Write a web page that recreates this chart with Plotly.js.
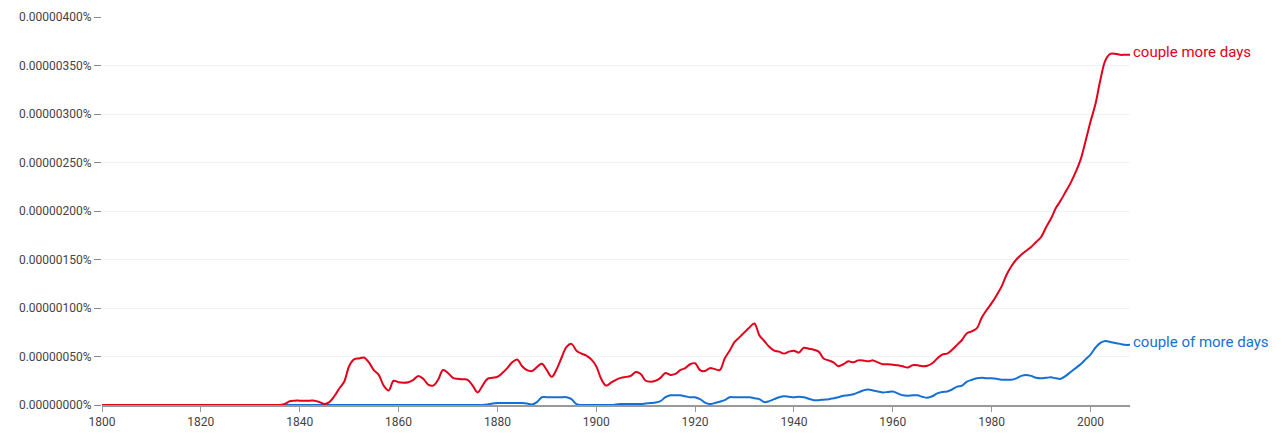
<!DOCTYPE html>
<html>
<head>
<meta charset="utf-8">
<script src="https://cdn.plot.ly/plotly-3.0.1.min.js"></script>
<style>html,body{margin:0;padding:0;background:#fff;}#chart{width:1284px;height:437px;}</style>
</head>
<body>
<div id="chart"></div>
<script>
// values in units of 0.00000001 %
const startYear = 1800;
const seriesNames = ["couple more days", "couple of more days"];
const redValues = [
  0,0,0,0,0,0,0,0,0,0, 0,0,0,0,0,0,0,0,0,0, 0,0,0,0,0,0,0,0,0,0, 0,0,0,0,0,0,0,          // 1800-1836
  1,4,4.5,4.5,4.5,4.5,4.5,3,1,3,9,17,24,                                                  // 1837-1849
  40,47,48,49,44,36,31,20,15,25,                                                          // 1850-1859
  23.5,23,23.5,26,30,27,21,20,26,36,                                                      // 1860-1869
  33,28,27,26.5,26,20,13,20,27,28,                                                        // 1870-1879
  29,33,38,44,47,40,36,35,39,42.5,                                                        // 1880-1889
  36,29,37,49,60,63,56,53,51,47,                                                          // 1890-1899
  40,27,20,23,26,28,29,30,34,32,                                                          // 1900-1909
  25,24,25,28,33,31,32,36,38,42,                                                          // 1910-1919
  43,36,35,38,37,36,48,56,65,70,                                                          // 1920-1929
  75,80,84,72,66,60,56,55,53,55,                                                          // 1930-1939
  56,54,59,58,57,55,48,46,44,40,                                                          // 1940-1949
  42,45,44,46,46,45,46,44,42,42,                                                          // 1950-1959
  41.5,41,40,38.6,41,41,40,40.5,43,48,                                                    // 1960-1969
  52,53,57,62,67,74,76,79,90,98,                                                          // 1970-1979
  105,113,122,134,143,150,155,159,163,168,                                                // 1980-1989
  173,183,192,203,211,220,229,240,253,272,                                                // 1990-1999
  292,310,335,355,362,362,361,361,361                                                     // 2000-2008
];
const blueValues = [
  0,0,0,0,0,0,0,0,0,0, 0,0,0,0,0,0,0,0,0,0, 0,0,0,0,0,0,0,0,0,0,                         // 1800-1829
  0,0,0,0,0,0,0,0,0,0, 0,0,0,0,0,0,0,0,0,0, 0,0,0,0,0,0,0,0,0,0,                         // 1830-1859
  0,0,0,0,0,0,0,0,0,0, 0,0,0,0,0,0,0,0,0.5,1.5,                                          // 1860-1879
  2,2,2,2,2,2,1.5,0.5,3,8,                                                                // 1880-1889
  8,8,8,8,8,6,1,0,0,0,                                                                    // 1890-1899
  0,0,0,0,0.5,1,1,1,1,1,                                                                  // 1900-1909
  1.5,2,2.5,4,8,10,10,10,9,8,                                                             // 1910-1919
  8,6,2.5,1,2,3.4,5,8,8,8,                                                                // 1920-1929
  8,8,7,6,3,4,6,8,9,8.5,                                                                  // 1930-1939
  8,8.5,8,6.5,5,5,5.5,6,7,8,                                                              // 1940-1949
  9.6,10,11,13,15,16,15,14,13,13.5,                                                       // 1950-1959
  14,12,10,9.6,10,10,8.5,7.5,9,12,                                                        // 1960-1969
  13.5,14,16,19,20,24,26,27.5,28,27.5,                                                    // 1970-1979
  27.5,27,26,26,26,27.5,30,31,30,28,                                                      // 1980-1989
  27.5,28,28.5,27.5,27,30,34,38,42,47,                                                    // 1990-1999
  52,59,64,66,65,64,63,62,62                                                              // 2000-2008
];
const years = redValues.map((_, i) => startYear + i);
const xTicks = [1800,1820,1840,1860,1880,1900,1920,1940,1960,1980,2000];
const yTicks = [0,50,100,150,200,250,300,350,400];
const yTickLabels = ["0.00000000%","0.00000050%","0.00000100%","0.00000150%","0.00000200%",
                     "0.00000250%","0.00000300%","0.00000350%","0.00000400%"];

const toPct = arr => arr.map(v => v * 1e-8);
const colors = ["#e3001b", "#1570d6"];

const traces = [
  {x: years, y: toPct(blueValues), name: seriesNames[1], type: 'scatter', mode: 'lines',
   line: {color: colors[1], width: 2, shape: 'spline', smoothing: 1}},
  {x: years, y: toPct(redValues), name: seriesNames[0], type: 'scatter', mode: 'lines',
   line: {color: colors[0], width: 2, shape: 'spline', smoothing: 1}}
];

const lastYear = years[years.length - 1];
const annotations = [
  {x: lastYear, y: redValues[redValues.length-1]*1e-8, text: seriesNames[0], xanchor: 'left', yanchor: 'middle',
   showarrow: false, xshift: 1, yshift: 3, font: {color: colors[0], size: 15, family: 'Roboto, Arial, sans-serif'}},
  {x: lastYear, y: blueValues[blueValues.length-1]*1e-8, text: seriesNames[1], xanchor: 'left', yanchor: 'middle',
   showarrow: false, xshift: 1, yshift: 3, font: {color: colors[1], size: 15, family: 'Roboto, Arial, sans-serif'}}
];

const layout = {
  width: 1284, height: 437,
  margin: {l: 102, r: 154, t: 17, b: 32},
  paper_bgcolor: '#fff', plot_bgcolor: '#fff',
  showlegend: false,
  font: {family: 'Roboto, Arial, sans-serif', size: 12, color: '#444'},
  xaxis: {
    range: [1800, 2008], tickvals: xTicks, ticktext: xTicks.map(String),
    showgrid: false, zeroline: false,
    showline: true, linecolor: '#999', linewidth: 2,
    ticks: 'outside', ticklen: 5, tickcolor: '#999', tickwidth: 1,
    tickfont: {size: 12, color: '#444'}, fixedrange: true
  },
  yaxis: {
    range: [0, 4e-6], tickvals: yTicks.map(v => v*1e-8), ticktext: yTickLabels,
    showgrid: true, gridcolor: '#f3f3f3', gridwidth: 1,
    zeroline: false, showline: false,
    ticks: 'outside', ticklen: 7, tickcolor: '#888', tickwidth: 1,
    tickfont: {size: 12, color: '#444'}, fixedrange: true
  },
  annotations: annotations
};

Plotly.newPlot('chart', traces, layout, {displayModeBar: false, staticPlot: true});
</script>
</body>
</html>
